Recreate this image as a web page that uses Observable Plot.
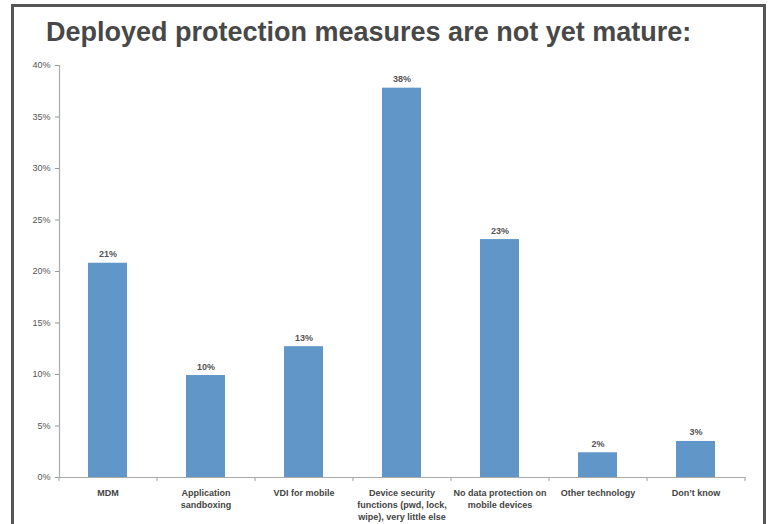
<!DOCTYPE html>
<html>
<head>
<meta charset="utf-8">
<script src="https://cdn.jsdelivr.net/npm/d3@7"></script>
<script src="https://cdn.jsdelivr.net/npm/@observablehq/plot@0.6"></script>
<style>
  html, body { margin: 0; padding: 0; background: #fff; overflow: hidden; }
  #wrap { position: relative; width: 769px; height: 524px; overflow: hidden; background: #fff; }
  #frame { position: absolute; left: 11px; top: 4px; width: 749px; height: 560px; border: 3px solid #555; box-sizing: content-box; }
  #title { position: absolute; left: 46px; top: 19px; line-height: 1; font-family: "Liberation Sans", Arial, sans-serif; font-weight: bold; font-size: 27px; color: #484848; white-space: nowrap; }
  #chart { position: absolute; left: 0; top: 0; }
</style>
</head>
<body>
<div id="wrap">
  <div id="frame"></div>
  <div id="chart"></div>
  <div id="title">Deployed protection measures are not yet mature:</div>
</div>
<script>
const categories = [
  "MDM",
  "Application sandboxing",
  "VDI for mobile",
  "Device security functions (pwd, lock, wipe), very little else",
  "No data protection on mobile devices",
  "Other technology",
  "Don't know"
];
const tickLabels = [
  "MDM",
  "Application\nsandboxing",
  "VDI for mobile",
  "Device security\nfunctions (pwd, lock,\nwipe), very little else",
  "No data protection on\nmobile devices",
  "Other technology",
  "Don\u2019t know"
];
const values = [20.8, 9.9, 12.7, 37.8, 23.1, 2.4, 3.5];
const valueLabels = ["21%", "10%", "13%", "38%", "23%", "2%", "3%"];
const yTicks = [0, 5, 10, 15, 20, 25, 30, 35, 40];

const data = categories.map((c, i) => ({cat: c, value: values[i], label: valueLabels[i]}));
const labelOf = new Map(categories.map((c, i) => [c, tickLabels[i]]));

const W = 769, H = 524, ML = 59, MR = 24, MT = 65, MB = 47;
const step = (W - ML - MR) / categories.length;
const font = "Liberation Sans, Arial, sans-serif";

const chart = Plot.plot({
  width: W,
  height: H,
  marginLeft: ML,
  marginRight: MR,
  marginTop: MT,
  marginBottom: MB,
  style: {fontFamily: font, background: "transparent", overflow: "visible"},
  x: {domain: categories, paddingInner: 0.6, paddingOuter: 0.3, label: null},
  y: {domain: [0, 40], label: null},
  marks: [
    Plot.frame({anchor: "left", stroke: "#aaa", strokeWidth: 1.2}),
    Plot.axisY({ticks: yTicks, tickFormat: d => d + "%", tickSize: 4, tickPadding: 5, fontSize: 9, color: "#555", stroke: "#999", label: null}),
    Plot.barY(data, {x: "cat", y: "value", fill: "#6096c8"}),
    Plot.text(data, {x: "cat", y: "value", text: "label", lineAnchor: "bottom", dy: -6, fontSize: 9, fontWeight: "bold", fill: "#555"}),
    Plot.axisX({tickSize: 0, tickPadding: 10, tickFormat: d => labelOf.get(d), fontSize: 9, fontWeight: "bold", fill: "#444", lineHeight: 1.35, label: null}),
    Plot.ruleY([0], {stroke: "#aaa", strokeWidth: 1.2}),
    Plot.ruleX(categories, {x: d => d, dx: -step / 2, y1: 0, y2: 0, insetBottom: -4, stroke: "#aaa", strokeWidth: 1.2}),
    Plot.ruleX([categories[categories.length - 1]], {x: d => d, dx: step / 2, y1: 0, y2: 0, insetBottom: -4, stroke: "#aaa", strokeWidth: 1.2})
  ]
});
document.getElementById("chart").appendChild(chart);
</script>
</body>
</html>
